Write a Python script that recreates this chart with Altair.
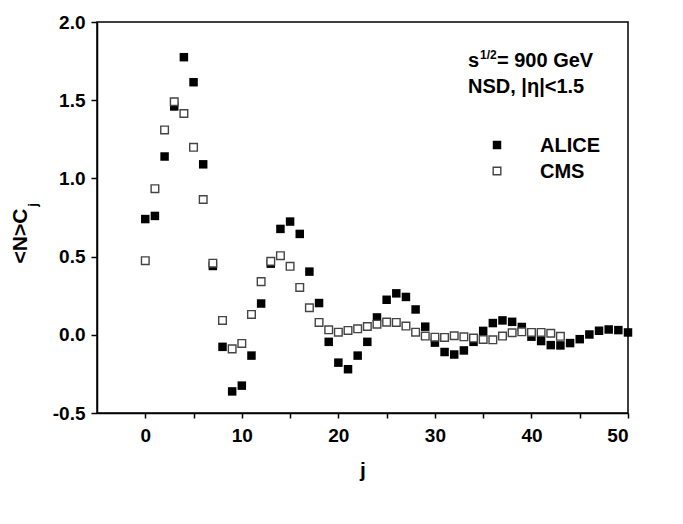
import altair as alt
import pandas as pd

# ---- data ----
alice_j = list(range(0, 51))
alice_v = [0.74, 0.76, 1.14, 1.46, 1.775, 1.615, 1.09, 0.44, -0.077, -0.362,
           -0.325, -0.133, 0.20, 0.455, 0.677, 0.724, 0.645, 0.404, 0.203, -0.045,
           -0.178, -0.22, -0.133, -0.045, 0.111, 0.224, 0.265, 0.242, 0.162, 0.052,
           -0.05, -0.11, -0.126, -0.10, -0.045, 0.025, 0.075, 0.092, 0.083, 0.05,
           -0.012, -0.04, -0.066, -0.068, -0.053, -0.028, 0.002, 0.026, 0.034, 0.03,
           0.015]
cms_j = list(range(0, 44))
cms_v = [0.474, 0.934, 1.31, 1.49, 1.415, 1.199, 0.865, 0.458, 0.092, -0.09,
         -0.055, 0.13, 0.34, 0.47, 0.506, 0.438, 0.303, 0.173, 0.079, 0.032,
         0.017, 0.028, 0.038, 0.053, 0.068, 0.081, 0.079, 0.056, 0.017, -0.008,
         -0.015, -0.017, -0.006, -0.013, -0.021, -0.03, -0.032, -0.008, 0.013, 0.019,
         0.015, 0.015, 0.01, -0.01]

x_ticks = [0, 5, 10, 15, 20, 25, 30, 35, 40, 45, 50]
y_ticks = [-0.5, -0.25, 0.0, 0.25, 0.5, 0.75, 1.0, 1.25, 1.5, 1.75, 2.0]

alice = pd.DataFrame({"j": alice_j, "v": alice_v})
cms = pd.DataFrame({"j": cms_j, "v": cms_v})

W, H = 531, 391
FONT = "Liberation Sans"

xs = alt.Scale(domain=[-5, 50], nice=False, zero=False)
ys = alt.Scale(domain=[-0.5, 2.0], nice=False, zero=False)

x_axis = alt.Axis(
    values=x_ticks,
    labelExpr="datum.value % 10 == 0 ? datum.value + '' : ''",
    title="j", grid=False, tickSize=5, tickColor="black", tickWidth=1.5,
    domainColor="black", domainWidth=1.5, labelFont=FONT, labelFontSize=19,
    labelFontWeight="bold", labelColor="black", labelPadding=8,
    titleFont=FONT, titleFontSize=21, titleFontWeight="bold", titleColor="black",
    titlePadding=14,
)
y_axis = alt.Axis(
    values=y_ticks,
    labelExpr="abs(datum.value*2 - round(datum.value*2)) < 0.001 ? "
              "(datum.value < 0 ? '-' + format(abs(datum.value), '.1f') : format(datum.value, '.1f')) : ''",
    title=None, grid=False, tickSize=6, tickColor="black", tickWidth=1.5,
    domainColor="black", domainWidth=1.5, labelFont=FONT, labelFontSize=19,
    labelFontWeight="bold", labelColor="black", labelPadding=6,
)

pts_a = alt.Chart(alice).mark_square(size=72, color="black", opacity=1).encode(
    x=alt.X("j:Q", scale=xs, axis=x_axis),
    y=alt.Y("v:Q", scale=ys, axis=y_axis),
)
pts_c = alt.Chart(cms).mark_square(
    size=58, fill="white", stroke="#444444", strokeWidth=1.4, opacity=1
).encode(
    x=alt.X("j:Q", scale=xs),
    y=alt.Y("v:Q", scale=ys),
)

# ---- annotations (pixel positions inside the plot area) ----
ann_text = ["s", "1/2", "= 900 GeV", "NSD, |η|<1.5", "ALICE", "CMS"]
ann_x = [371, 383, 400, 371, 443, 443]
ann_y = [45, 37, 45, 71, 130, 156]
ann_size = [20, 12, 20, 20, 20, 20]
ann = pd.DataFrame({"t": ann_text, "px": ann_x, "py": ann_y, "fs": ann_size})
texts = alt.Chart(ann).mark_text(
    align="left", baseline="alphabetic", font=FONT, fontWeight="bold", color="black"
).encode(
    x=alt.X("px:Q", scale=None),
    y=alt.Y("py:Q", scale=None),
    text="t:N",
    size=alt.Size("fs:Q", scale=None, legend=None),
)

leg = pd.DataFrame({"name": ["ALICE", "CMS"], "px": [400, 400], "py": [123, 149]})
leg_a = alt.Chart(leg).transform_filter("datum.name == 'ALICE'").mark_square(
    size=72, color="black", opacity=1).encode(
    x=alt.X("px:Q", scale=None), y=alt.Y("py:Q", scale=None))
leg_c = alt.Chart(leg).transform_filter("datum.name == 'CMS'").mark_square(
    size=58, fill="white", stroke="#444444", strokeWidth=1.4, opacity=1).encode(
    x=alt.X("px:Q", scale=None), y=alt.Y("py:Q", scale=None))

# y-axis title with subscript
yt = pd.DataFrame({"t": ["<N>C", "j"], "px": [-76, -64], "py": [214, 183], "fs": [21, 13]})
ytitle = alt.Chart(yt).mark_text(
    align="center", baseline="middle", font=FONT, fontWeight="bold", color="black", angle=270
).encode(
    x=alt.X("px:Q", scale=None),
    y=alt.Y("py:Q", scale=None),
    text="t:N",
    size=alt.Size("fs:Q", scale=None, legend=None),
)

chart = alt.layer(pts_a, pts_c, texts, leg_a, leg_c, ytitle).properties(
    width=W, height=H,
    autosize=alt.AutoSizeParams(type="none"),
    padding={"left": 89, "top": 14, "right": 40, "bottom": 95},
    background="white",
).configure_view(stroke="black", strokeWidth=1.5)

chart.save("out.html", embed_options={"renderer": "svg", "actions": False})
